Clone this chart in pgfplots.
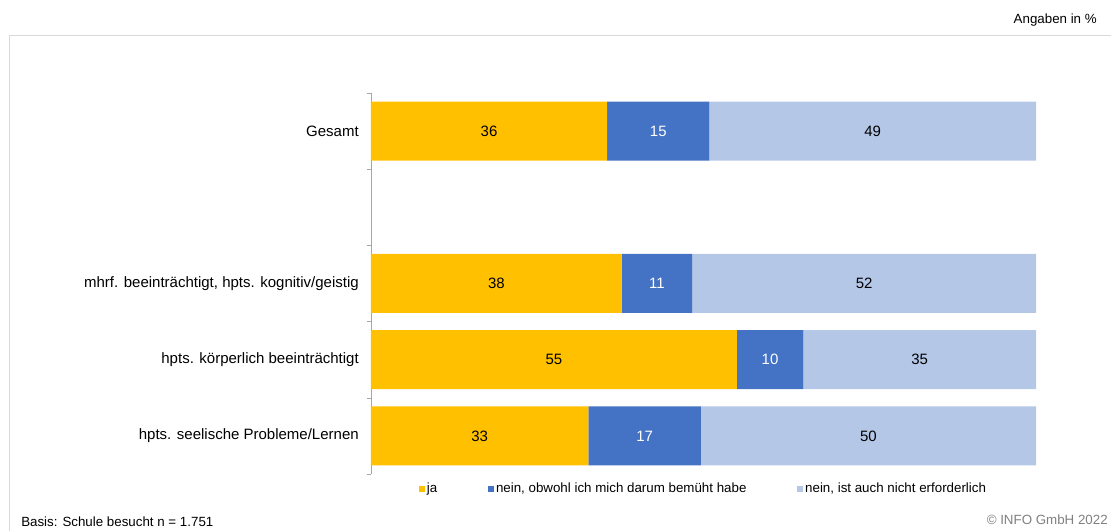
\documentclass[border=0pt]{standalone}
\usepackage{pgfplots}
\pgfplotsset{compat=1.18}
\usepackage{pgfplotstable}
\usepackage{fontspec}
\setmainfont{Liberation Sans}

\definecolor{cja}{HTML}{FFC000}
\definecolor{cneinb}{HTML}{4472C4}
\definecolor{cneine}{HTML}{B4C7E7}
\definecolor{cframe}{HTML}{D9D9D9}
\definecolor{caxis}{HTML}{A6A6A6}

% pos: 4 = Gesamt, 3 bleibt leer, 2..0 = Gruppen
% Balkenlaengen ungerundet (Summe 100), *L = angezeigte Werte
\pgfplotstableread{
pos ja   neinb neine jaL neinbL neineL
4   35.5 15.4  49.1  36  15     49
2   37.7 10.6  51.7  38  11     52
1   55.0 10.0  35.0  55  10     35
0   32.7 16.9  50.4  33  17     50
}\data

\begin{document}
\begin{tikzpicture}[x=0.75pt,y=0.75pt,font=\fontsize{10}{12}\selectfont]
\useasboundingbox (0,0) rectangle (1111,531);
\draw[cframe, line width=0.75pt] (9.5,495.5) rectangle (1130,-20);
\node[anchor=base east, inner sep=0pt] at (1097,507) {Angaben in \%};
\node[anchor=base west, inner sep=0pt] at (21,4) {Basis: Schule besucht n = 1.751};
\node[anchor=base east, inner sep=0pt, text=gray] at (1108,6) {\textcopyright{} INFO GmbH 2022};
\begin{axis}[
  at={(278.25pt,42.75pt)}, anchor=south west,
  scale only axis, width=498.75pt, height=285.75pt,
  xbar stacked, bar width=44.25pt,
  xmin=0, xmax=100, ymin=-0.5, ymax=4.5,
  hide x axis,
  axis y line*=left,
  axis line style={caxis, -},
  ytick={0,1,2,4},
  yticklabels={hpts. seelische Probleme/Lernen, hpts. körperlich beeinträchtigt, {mhrf. beeinträchtigt, hpts. kognitiv/geistig}, Gesamt},
  major tick length=0pt,
  minor ytick={-0.5,0.5,...,4.5},
  minor tick length=3pt,
  tick align=outside,
  minor tick style={caxis},
  yticklabel style={inner sep=0pt, xshift=-9pt, font=\fontsize{11.25}{13}\selectfont},
  point meta=explicit,
  nodes near coords={\pgfmathprintnumber[assume math mode=true]{\pgfplotspointmeta}},
  every node near coord/.append style={anchor=center,
    font=\fontsize{11.25}{13}\selectfont},
  legend style={at={(0.5,0)}, anchor=north, yshift=-3pt, draw=none,
    legend columns=3, nodes={inner sep=1.5pt},
    /tikz/every even column/.append style={column sep=36.5pt}},
  legend image code/.code={\fill[#1] (0pt,-2.25pt) rectangle (4.5pt,2.25pt);},
]
\addplot[fill=cja, draw=none] table[x=ja, y=pos, meta=jaL] {\data};
\addplot[fill=cneinb, draw=none, nodes near coords style={text=white}]
  table[x=neinb, y=pos, meta=neinbL] {\data};
\addplot[fill=cneine, draw=none] table[x=neine, y=pos, meta=neineL] {\data};
\legend{ja, {nein, obwohl ich mich darum bemüht habe}, {nein, ist auch nicht erforderlich}}
\end{axis}
\end{tikzpicture}
\end{document}
